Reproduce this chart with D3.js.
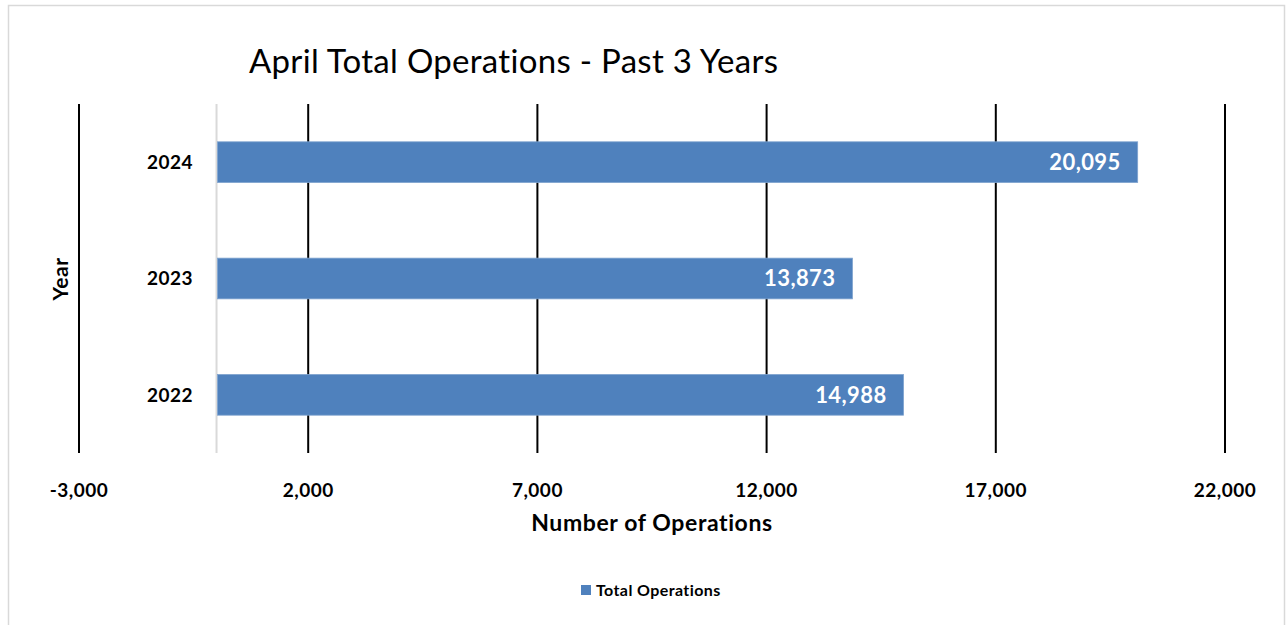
<!DOCTYPE html>
<html>
<head>
<meta charset="utf-8">
<script src="https://cdn.jsdelivr.net/npm/d3@7"></script>
<style>
  body { margin: 0; background: #fff; }
  text { font-family: Lato, "Open Sans", sans-serif; }
</style>
</head>
<body>
<script>
var years = ["2024", "2023", "2022"];
var operations = [20095, 13873, 14988];
var xTicks = [-3000, 2000, 7000, 12000, 17000, 22000];

var W = 1288, H = 625;
var plot = { left: 79, right: 1225, top: 104, bottom: 453 };

var svg = d3.select("body").append("svg")
    .attr("width", W)
    .attr("height", H);

var fmt = (v) => d3.format(",")(v).replace("\u2212", "-");

// chart frame
svg.append("rect")
    .attr("x", 8.5).attr("y", 5.5)
    .attr("width", 1276).attr("height", 640)
    .attr("fill", "#fff")
    .attr("stroke", "#d9d9d9")
    .attr("stroke-width", 1.5);

var x = d3.scaleLinear()
    .domain([-3000, 22000])
    .range([plot.left, plot.right]);

var y = d3.scaleBand()
    .domain(years)
    .range([plot.top, plot.bottom])
    .paddingInner(0.65)
    .paddingOuter(0.325);

// vertical gridlines
svg.selectAll(".grid")
    .data(xTicks)
    .enter()
    .append("line")
    .attr("x1", (d) => x(d)).attr("x2", (d) => x(d))
    .attr("y1", plot.top).attr("y2", plot.bottom)
    .attr("stroke", "#000")
    .attr("stroke-width", 2);

// zero axis line
svg.append("line")
    .attr("x1", x(0)).attr("x2", x(0))
    .attr("y1", plot.top).attr("y2", plot.bottom)
    .attr("stroke", "#d9d9d9")
    .attr("stroke-width", 2);

var data = years.map((d, i) => ({ year: d, value: operations[i] }));

svg.selectAll(".bar")
    .data(data)
    .enter()
    .append("rect")
    .attr("x", x(0) + 1)
    .attr("y", (d) => y(d.year))
    .attr("width", (d) => x(d.value) - x(0) - 1)
    .attr("height", y.bandwidth())
    .attr("fill", "#4f81bd")
    .attr("stroke", "#7fa3cf")
    .attr("stroke-width", 0.8);

// value labels inside bar end
svg.selectAll(".val")
    .data(data)
    .enter()
    .append("text")
    .text((d) => fmt(d.value))
    .attr("x", (d) => x(d.value) - 17)
    .attr("y", (d) => y(d.year) + y.bandwidth() / 2)
    .attr("dy", "0.36em")
    .attr("text-anchor", "end")
    .attr("font-size", "22px")
    .attr("font-weight", "bold")
    .attr("letter-spacing", "0.4px")
    .attr("fill", "#fff");

// y category labels
svg.selectAll(".ylab")
    .data(years)
    .enter()
    .append("text")
    .text((d) => d)
    .attr("x", 193)
    .attr("y", (d) => y(d) + y.bandwidth() / 2)
    .attr("dy", "0.36em")
    .attr("text-anchor", "end")
    .attr("font-size", "19px")
    .attr("font-weight", "bold")
    .attr("letter-spacing", "0.5px")
    .attr("fill", "#000");

// x tick labels
svg.selectAll(".xlab")
    .data(xTicks)
    .enter()
    .append("text")
    .text((d) => fmt(d))
    .attr("x", (d) => x(d))
    .attr("y", 490)
    .attr("dy", "0.36em")
    .attr("text-anchor", "middle")
    .attr("font-size", "19px")
    .attr("font-weight", "bold")
    .attr("letter-spacing", "0.5px")
    .attr("fill", "#000");

// titles
svg.append("text")
    .text("April Total Operations - Past 3 Years")
    .attr("x", 249)
    .attr("y", 61)
    .attr("dy", "0.36em")
    .attr("font-size", "33px")
    .attr("letter-spacing", "0.3px")
    .attr("fill", "#000");

svg.append("text")
    .text("Number of Operations")
    .attr("x", (plot.left + plot.right) / 2)
    .attr("y", 523)
    .attr("dy", "0.36em")
    .attr("text-anchor", "middle")
    .attr("font-size", "23px")
    .attr("font-weight", "bold")
    .attr("letter-spacing", "0.6px")
    .attr("fill", "#000");

svg.append("text")
    .text("Year")
    .attr("transform", "translate(60, 279) rotate(-90)")
    .attr("dy", "0.36em")
    .attr("text-anchor", "middle")
    .attr("font-size", "21px")
    .attr("font-weight", "bold")
    .attr("letter-spacing", "0.5px")
    .attr("fill", "#000");

// legend
var legend = svg.append("g").attr("transform", "translate(581, 585)");
legend.append("rect")
    .attr("width", 10).attr("height", 10)
    .attr("fill", "#4f81bd");
legend.append("text")
    .text("Total Operations")
    .attr("x", 15)
    .attr("y", 5)
    .attr("dy", "0.36em")
    .attr("font-size", "16px")
    .attr("font-weight", "bold")
    .attr("letter-spacing", "0.4px")
    .attr("fill", "#000");
</script>
</body>
</html>
